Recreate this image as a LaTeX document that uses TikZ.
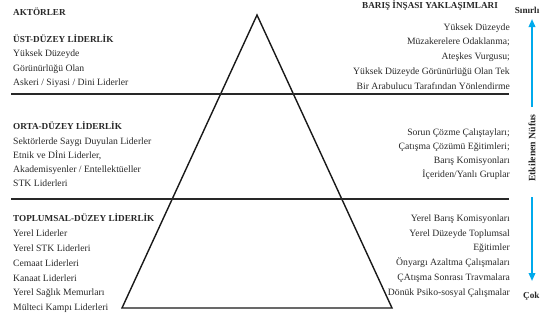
\documentclass[tikz,border=0pt]{standalone}
\usepackage{fontspec}
\setmainfont{Liberation Serif}
\usetikzlibrary{arrows.meta}

\definecolor{flowblue}{RGB}{0,170,236}
\definecolor{ink}{RGB}{40,40,40}

\tikzset{
    lbl/.style={anchor=base west, inner sep=0pt, text=ink, font=\fontsize{9.7}{11}\selectfont},
    rlbl/.style={anchor=base east, inner sep=0pt, text=ink, font=\fontsize{9.7}{11}\selectfont},
    head/.style={anchor=base west, inner sep=0pt, text=ink, font=\fontsize{9.2}{11}\selectfont\bfseries},
    sep/.style={line width=1.6bp, ink},
    tri/.style={line width=1.4bp, black!90, line join=miter},
    flow/.style={line width=1.8bp, flowblue, -{Triangle[length=8bp,width=6.5bp]}}
}

\begin{document}
\begin{tikzpicture}[x=1bp, y=-1bp]
    \useasboundingbox (0,0) rectangle (540,320);

    % pyramid and the two level lines
    \coordinate (apex) at (257,15);
    \coordinate (bl) at (122,308);
    \coordinate (br) at (392,308);
    \coordinate (l1w) at (11,94);
    \coordinate (l1e) at (509,94);
    \coordinate (l2w) at (11,199);
    \coordinate (l2e) at (509,199);
    \draw[tri] (apex) -- (br) -- (bl) -- cycle;
    \draw[sep] (l1w) -- (l1e);
    \draw[sep] (l2w) -- (l2e);

    % actors
    \node[head] (akt) at (13,15) {AKTÖRLER};
    \node[head] (ust) at (13,42) {ÜST-DÜZEY LİDERLİK};
    \node[lbl] (ust1) at (13,56.5) {Yüksek Düzeyde};
    \node[lbl] (ust2) at (13,71) {Görünürlüğü Olan};
    \node[lbl] (ust3) at (13,85.5) {Askeri / Siyasi / Dini Liderler};

    \node[head] (orta) at (13,129) {ORTA-DÜZEY LİDERLİK};
    \node[lbl] (orta1) at (13,144) {Sektörlerde Saygı Duyulan Liderler};
    \node[lbl] (orta2) at (13,158) {Etnik ve Dİni Liderler,};
    \node[lbl] (orta3) at (13,172) {Akademisyenler / Entellektüeller};
    \node[lbl] (orta4) at (13,186) {STK Liderleri};

    \node[head] (top) at (13,221) {TOPLUMSAL-DÜZEY LİDERLİK};
    \node[lbl] (top1) at (13,236) {Yerel Liderler};
    \node[lbl] (top2) at (13,251) {Yerel STK Liderleri};
    \node[lbl] (top3) at (13,266) {Cemaat Liderleri};
    \node[lbl] (top4) at (13,281) {Kanaat Liderleri};
    \node[lbl] (top5) at (13,295.5) {Yerel Sağlık Memurları};
    \node[lbl] (top6) at (13,310) {Mülteci Kampı Liderleri};

    % approaches
    \node[head, anchor=base] (yak) at (430,8.5) {BARIŞ İNŞASI YAKLAŞIMLARI};
    \node[rlbl] (yak1) at (510,30) {Yüksek Düzeyde};
    \node[rlbl] (yak2) at (510,44.5) {Müzakerelere Odaklanma;};
    \node[rlbl] (yak3) at (510,59) {Ateşkes Vurgusu;};
    \node[rlbl] (yak4) at (510,74) {Yüksek Düzeyde Görünürlüğü Olan Tek};
    \node[rlbl] (yak5) at (510,89) {Bir Arabulucu Tarafından Yönlendirme};

    \node[rlbl] (cal1) at (510,135) {Sorun Çözme Çalıştayları;};
    \node[rlbl] (cal2) at (510,149) {Çatışma Çözümü Eğitimleri;};
    \node[rlbl] (cal3) at (510,163) {Barış Komisyonları};
    \node[rlbl] (cal4) at (510,177) {İçeriden/Yanlı Gruplar};

    \node[rlbl] (yer1) at (510,221) {Yerel Barış Komisyonları};
    \node[rlbl] (yer2) at (510,236) {Yerel Düzeyde Toplumsal};
    \node[rlbl] (yer3) at (510,250.5) {Eğitimler};
    \node[rlbl] (yer4) at (510,265) {Önyargı Azaltma Çalışmaları};
    \node[rlbl] (yer5) at (510,280) {ÇAtışma Sonrası Travmalara};
    \node[rlbl] (yer6) at (510,295) {Dönük Psiko-sosyal Çalışmalar};

    % affected population scale
    \node[head, anchor=base east] (sinir) at (539.5,13) {Sınırlı};
    \node[head] (cok) at (523,298) {Çok};
    \node[inner sep=0pt, rotate=90, text=ink, font=\fontsize{9.8}{11}\selectfont\bfseries] (etk) at (532,148) {Etkilenen Nüfus};
    \coordinate (upfoot) at (532,107);
    \coordinate (uptip) at (532,19);
    \coordinate (dnfoot) at (532,197);
    \coordinate (dntip) at (532,281);
    \draw[flow] (upfoot) -- (uptip);
    \draw[flow] (dnfoot) -- (dntip);
\end{tikzpicture}
\end{document}
